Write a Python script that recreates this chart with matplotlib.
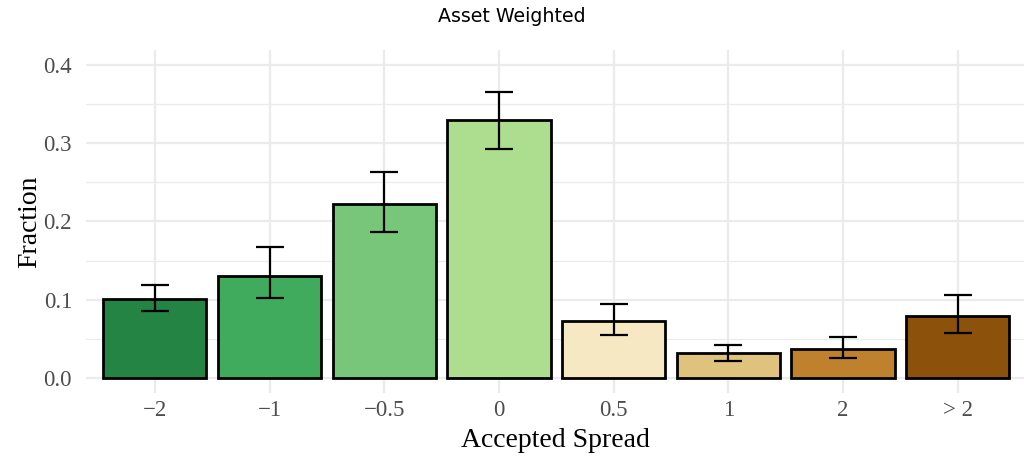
import matplotlib
matplotlib.use('Agg')
import matplotlib.pyplot as plt
import numpy as np

# データ
categories = ['\u22122', '\u22121', '\u22120.5', '0', '0.5', '1', '2', '> 2']
fraction = [0.101, 0.130, 0.222, 0.329, 0.073, 0.032, 0.037, 0.079]
err_low = [0.086, 0.102, 0.187, 0.292, 0.055, 0.022, 0.026, 0.058]
err_high = [0.119, 0.167, 0.263, 0.366, 0.095, 0.042, 0.052, 0.106]
bar_colors = ['#238443', '#41ab5d', '#78c679', '#addd8e',
              '#f6e8c3', '#dfc27d', '#bf812d', '#8c510a']

SERIF = ['Liberation Serif', 'DejaVu Serif']

fig = plt.figure(figsize=(10.24, 4.58), dpi=100)
ax = fig.add_axes([86 / 1024, 1 - 393 / 458, (1024 - 86) / 1024, (393 - 50) / 458])

x = np.arange(1, len(categories) + 1)
f = np.array(fraction)
yerr = [f - np.array(err_low), np.array(err_high) - f]

ax.bar(x, f, width=0.9, color=bar_colors, edgecolor='black', linewidth=2.0, zorder=2)
ax.errorbar(x, f, yerr=yerr, fmt='none', ecolor='black', elinewidth=1.6,
            capsize=10, capthick=1.6, zorder=3)

ax.set_xlim(0.4, 8.578)
ax.set_ylim(-0.019, 0.419)
ax.set_xticks(x)
ax.set_xticklabels(categories)
ax.set_yticks([0.0, 0.1, 0.2, 0.3, 0.4])
ax.set_yticklabels(['0.0', '0.1', '0.2', '0.3', '0.4'])
ax.set_yticks([0.05, 0.15, 0.25, 0.35], minor=True)

for lab in ax.get_xticklabels() + ax.get_yticklabels():
    lab.set_family(SERIF)
    lab.set_fontsize(16.5)
    lab.set_color('#4d4d4d')

ax.tick_params(axis='both', which='both', length=0)
ax.tick_params(axis='x', pad=5)
ax.tick_params(axis='y', pad=10)

ax.grid(True, which='major', color='#ebebeb', linewidth=1.6, zorder=0)
ax.grid(True, which='minor', axis='y', color='#ebebeb', linewidth=0.9, zorder=0)
ax.set_axisbelow(True)
for s in ax.spines.values():
    s.set_visible(False)

ax.set_xlabel('Accepted Spread', family=SERIF, fontsize=20, labelpad=5)
ax.set_ylabel('Fraction', family=SERIF, fontsize=20, labelpad=1)
fig.text(0.5, 1 - 17 / 458, 'Asset Weighted', ha='center', va='center',
         fontsize=13.7, family=['DejaVu Sans'])

fig.savefig('out.png', dpi=100)
